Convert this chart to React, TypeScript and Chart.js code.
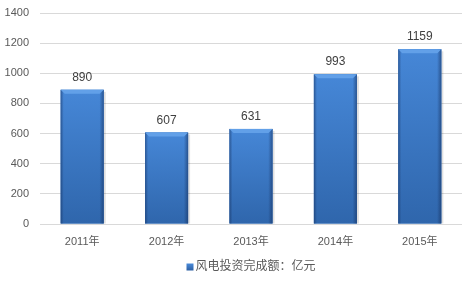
import React, { useEffect, useRef } from "react";
import { Chart, registerables } from "chart.js";

Chart.register(...registerables);

const categories = ["2011年", "2012年", "2013年", "2014年", "2015年"];
const investment = [890, 607, 631, 993, 1159];
const seriesName = "风电投资完成额：亿元";
const yTicks = [0, 200, 400, 600, 800, 1000, 1200, 1400];

const FONT = "'Liberation Sans', 'Noto Sans CJK SC', sans-serif";

const barStyle = {
  id: "barStyle",
  afterDatasetsDraw(chart: any) {
    const ctx = chart.ctx as CanvasRenderingContext2D;
    const meta = chart.getDatasetMeta(0);
    meta.data.forEach((bar: any, i: number) => {
      const left = bar.x - bar.width / 2;
      const right = bar.x + bar.width / 2;
      const top = bar.y;
      const bottom = bar.base;
      const h = bottom - top;
      ctx.save();
      ctx.fillStyle = "rgba(0,0,0,0.12)";
      ctx.fillRect(right, top + 2, 2, h - 2);
      const g = ctx.createLinearGradient(0, top, 0, bottom);
      g.addColorStop(0, "#4687D7");
      g.addColorStop(1, "#2F66AC");
      ctx.fillStyle = g;
      ctx.fillRect(left, top, right - left, h);
      const hg = ctx.createLinearGradient(left, 0, right, 0);
      hg.addColorStop(0, "rgba(20,45,90,0.5)");
      hg.addColorStop(0.07, "rgba(20,45,90,0.0)");
      hg.addColorStop(0.9, "rgba(20,45,90,0.0)");
      hg.addColorStop(1, "rgba(20,45,90,0.55)");
      ctx.fillStyle = hg;
      ctx.fillRect(left, top, right - left, h);
      const bv = 4;
      ctx.beginPath();
      ctx.moveTo(left, top);
      ctx.lineTo(right, top);
      ctx.lineTo(right - bv, top + bv);
      ctx.lineTo(left + bv, top + bv);
      ctx.closePath();
      ctx.fillStyle = "#62A0E8";
      ctx.fill();
      ctx.fillStyle = "#404040";
      ctx.font = "12px " + FONT;
      ctx.textAlign = "center";
      ctx.textBaseline = "alphabetic";
      ctx.fillText(String(investment[i]), bar.x, top - 9);
      ctx.restore();
    });
  },
};

const customLegend = {
  id: "customLegend",
  afterDraw(chart: any) {
    const ctx = chart.ctx as CanvasRenderingContext2D;
    ctx.save();
    ctx.font = "12px " + FONT;
    const tw = ctx.measureText(seriesName).width;
    const box = 7;
    const gap = 2;
    const total = box + gap + tw;
    const cx = (chart.chartArea.left + chart.chartArea.right) / 2;
    const x0 = cx - total / 2;
    const cy = 267;
    const g = ctx.createLinearGradient(0, cy - box / 2, 0, cy + box / 2);
    g.addColorStop(0, "#4A8BDA");
    g.addColorStop(1, "#2C5FA3");
    ctx.fillStyle = g;
    ctx.fillRect(x0, cy - box / 2, box, box);
    ctx.fillStyle = "#595959";
    ctx.textAlign = "left";
    ctx.textBaseline = "middle";
    ctx.fillText(seriesName, x0 + box + gap, cy);
    ctx.restore();
  },
};

export default function App() {
  const ref = useRef<HTMLCanvasElement>(null);
  useEffect(() => {
    document.body.style.margin = "0";
    const chart = new Chart(ref.current!, {
      type: "bar",
      data: {
        labels: categories,
        datasets: [
          {
            label: seriesName,
            data: investment,
            backgroundColor: "#3A76C2",
            borderWidth: 0,
            categoryPercentage: 1,
            barPercentage: 0.51,
          },
        ],
      },
      options: {
        animation: false,
        responsive: false,
        layout: { padding: { top: 13, right: 10, left: 0, bottom: 32 } },
        plugins: {
          tooltip: { enabled: false },
          legend: { display: false },
        },
        scales: {
          x: {
            grid: { display: false, drawTicks: false },
            border: { display: false },
            ticks: {
              color: "#595959",
              padding: 11,
              font: { size: 11, family: FONT },
            },
            afterFit(scale: any) {
              scale.height = 27;
              scale.paddingLeft = 0;
              scale.paddingRight = 0;
            },
          },
          y: {
            min: 0,
            max: 1400,
            afterBuildTicks(scale: any) {
              scale.ticks = yTicks.map((v) => ({ value: v }));
            },
            grid: { color: "#D9D9D9", drawTicks: false, lineWidth: 1 },
            border: { display: false },
            ticks: {
              color: "#595959",
              padding: 11,
              font: { size: 11, family: FONT },
              callback: (v: any) => String(v),
            },
            afterFit(scale: any) {
              scale.width = 40;
              scale.paddingTop = 0;
              scale.paddingBottom = 0;
            },
          },
        },
      },
      plugins: [barStyle, customLegend],
    });
    return () => chart.destroy();
  }, []);
  return (
    <div style={{ width: 472, height: 283 }}>
      <canvas ref={ref} width={472} height={283} />
    </div>
  );
}
